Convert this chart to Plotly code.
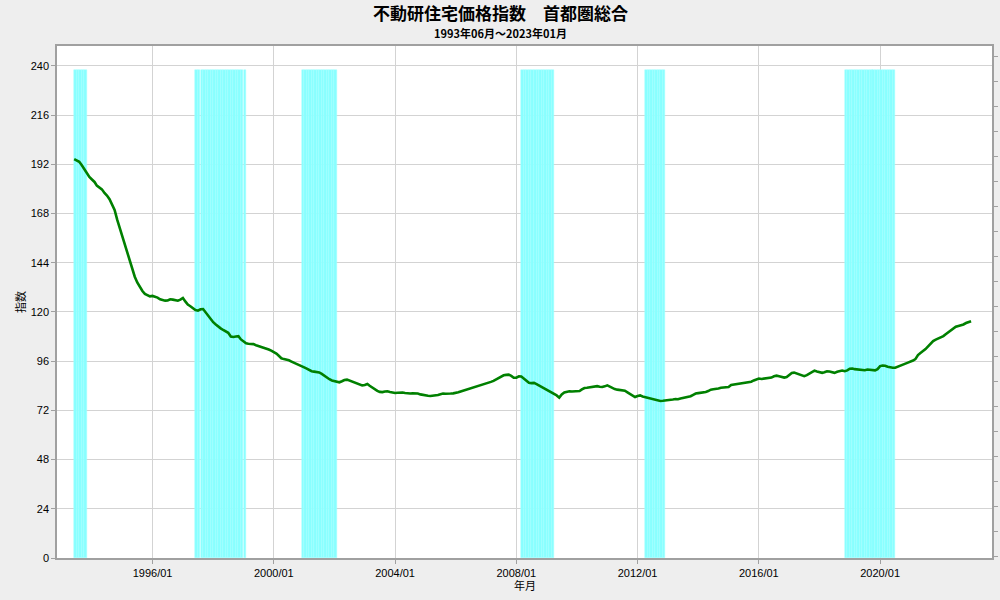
import pandas as pd
import plotly.graph_objects as go

START_MONTH = "1993-06-01"

# 不動研住宅価格指数 首都圏総合 (monthly, 1993/06 - 2023/01)
index_1993 = [194.5, 194.0, 193.2, 191.5, 189.6, 187.3, 185.8]
index_1994 = [184.6, 183.4, 181.6, 180.6, 179.8, 178.0, 176.8, 175.0, 172.5, 169.8, 165.0, 161.0]
index_1995 = [157.5, 153.4, 149.0, 144.8, 140.8, 137.2, 134.4, 132.0, 130.2, 128.8, 128.0, 127.6]
index_1996 = [127.8, 127.5, 127.0, 126.2, 125.8, 125.5, 125.6, 126.2, 126.0, 125.8, 125.5, 126.0]
index_1997 = [126.8, 125.0, 123.6, 122.8, 122.0, 120.9, 120.6, 121.3, 121.4, 119.8, 118.0, 116.2]
index_1998 = [115.0, 113.9, 112.8, 112.0, 111.2, 110.4, 109.8, 108.0, 107.8, 108.0, 108.2, 106.6]
index_1999 = [105.8, 104.7, 104.5, 104.5, 104.3, 103.8, 103.4, 103.2, 102.8, 102.3, 101.7, 101.1]
index_2000 = [100.5, 99.7, 98.6, 97.4, 97.0, 96.8, 96.4, 95.8, 95.3, 94.7, 94.2, 93.6]
index_2001 = [93.0, 92.4, 91.8, 91.1, 90.9, 90.7, 90.5, 89.8, 88.9, 87.9, 87.2, 86.6]
index_2002 = [86.3, 85.9, 85.7, 86.2, 86.8, 87.0, 86.5, 86.0, 85.5, 85.0, 84.5, 84.2]
index_2003 = [84.4, 84.9, 84.0, 83.0, 82.2, 81.5, 81.0, 80.9, 81.2, 81.3, 81.0, 80.7]
index_2004 = [80.5, 80.6, 80.8, 80.7, 80.5, 80.3, 80.2, 80.3, 80.4, 80.2, 79.8, 79.5]
index_2005 = [79.2, 79.1, 79.0, 79.1, 79.2, 79.5, 79.9, 80.2, 80.1, 80.0, 80.2, 80.3]
index_2006 = [80.4, 80.8, 81.2, 81.6, 81.8, 82.1, 82.5, 82.9, 83.3, 83.7, 84.1, 84.4]
index_2007 = [84.9, 85.4, 85.9, 86.4, 87.0, 87.7, 88.4, 89.1, 89.3, 89.4, 88.8, 87.9]
index_2008 = [87.9, 88.6, 88.5, 87.6, 86.4, 85.5, 85.3, 85.4, 84.8, 84.1, 83.4, 82.7]
index_2009 = [81.9, 81.1, 80.6, 80.1, 79.3, 78.2, 79.8, 80.7, 81.0, 81.3, 81.2, 81.3]
index_2010 = [81.2, 81.4, 82.2, 82.9, 83.0, 83.2, 83.4, 83.6, 83.8, 83.5, 83.4, 83.7]
index_2011 = [84.2, 83.6, 82.9, 82.4, 82.1, 82.0, 81.9, 81.6, 80.8, 80.0, 79.0, 78.5]
index_2012 = [79.0, 79.3, 78.8, 78.5, 78.2, 77.8, 77.4, 77.0, 76.7, 76.6, 76.7, 76.8]
index_2013 = [76.8, 77.1, 77.3, 77.5, 77.4, 77.8, 78.1, 78.2, 78.5, 78.9, 79.6, 80.2]
index_2014 = [80.4, 80.5, 80.6, 81.0, 81.4, 82.1, 82.3, 82.4, 82.7, 83.0, 83.2, 83.3]
index_2015 = [83.4, 84.4, 84.6, 84.7, 84.9, 85.0, 85.2, 85.5, 85.8, 86.0, 86.6, 87.2]
index_2016 = [87.5, 87.3, 87.4, 87.5, 87.8, 88.0, 88.6, 88.9, 88.6, 88.2, 88.0, 88.3]
index_2017 = [89.2, 90.2, 90.4, 89.9, 89.4, 89.0, 88.7, 89.2, 90.0, 91.0, 91.4, 91.0]
index_2018 = [90.6, 90.3, 90.6, 91.1, 91.0, 90.5, 90.3, 90.8, 91.3, 91.4, 91.1, 91.5]
index_2019 = [92.3, 92.4, 92.1, 91.9, 91.7, 91.5, 91.6, 91.9, 91.8, 91.5, 91.5, 92.1]
index_2020 = [93.6, 93.9, 93.8, 93.3, 93.0, 92.8, 92.8, 93.4, 93.9, 94.3, 94.8, 95.3]
index_2021 = [95.7, 96.3, 97.0, 99.0, 100.0, 100.9, 101.9, 103.2, 104.6, 105.8, 106.5, 107.0]
index_2022 = [107.6, 108.2, 109.1, 110.0, 110.9, 111.6, 112.8, 113.2, 113.4, 113.9, 114.6, 115.0]
index_2023 = [115.5]

# 景気後退期 (shaded months: first month, last month)
recession_periods = [
    ("1993-06-01", "1993-10-01"),
    ("1997-06-01", "1999-01-01"),
    ("2000-12-01", "2002-01-01"),
    ("2008-03-01", "2009-03-01"),
    ("2012-04-01", "2012-11-01"),
    ("2018-11-01", "2020-06-01"),
]
BAND_HEIGHT = 238

y_ticks = [0, 24, 48, 72, 96, 120, 144, 168, 192, 216, 240]

TITLE = "不動研住宅価格指数　首都圏総合"
SUBTITLE = "1993年06月～2023年01月"
X_TITLE = "年月"
Y_TITLE = "指数"

values = (index_1993 + index_1994 + index_1995 + index_1996 + index_1997 + index_1998
          + index_1999 + index_2000 + index_2001 + index_2002 + index_2003 + index_2004
          + index_2005 + index_2006 + index_2007 + index_2008 + index_2009 + index_2010
          + index_2011 + index_2012 + index_2013 + index_2014 + index_2015 + index_2016
          + index_2017 + index_2018 + index_2019 + index_2020 + index_2021 + index_2022
          + index_2023)
dates = pd.date_range(START_MONTH, periods=len(values), freq="MS")

band_months = []
for s, e in recession_periods:
    band_months += list(pd.date_range(s, e, freq="MS"))

MONTH_MS = 30.44 * 24 * 3600 * 1000

fig = go.Figure()
fig.add_trace(go.Bar(
    x=band_months, y=[BAND_HEIGHT] * len(band_months),
    width=[MONTH_MS] * len(band_months), offset=0,
    marker=dict(color="#88ffff", line=dict(color="#a4ffff", width=0.5)),
    showlegend=False, hoverinfo="skip",
))
fig.add_trace(go.Scatter(
    x=dates, y=values, mode="lines",
    line=dict(color="#008000", width=2.6),
    showlegend=False,
))
# invisible trace to anchor the right-hand axis
fig.add_trace(go.Scatter(x=[dates[0]], y=[0], yaxis="y2", mode="markers",
                         marker=dict(opacity=0), showlegend=False, hoverinfo="skip"))

tick_font = dict(family="Liberation Sans, Arial, sans-serif", size=11, color="#000000")
cjk = "Noto Sans CJK JP, sans-serif"

fig.update_layout(
    width=1000, height=600,
    paper_bgcolor="#eeeeee", plot_bgcolor="#ffffff",
    margin=dict(l=57, r=8, t=46, b=42, autoexpand=False),
    bargap=0,
    xaxis=dict(
        type="date", automargin=False,
        range=["1992-11-06", "2023-09-10"],
        tick0="1996-01-01", dtick="M48", tickformat="%Y/%m",
        showgrid=True, gridcolor="#d3d3d3", gridwidth=1,
        showline=True, linecolor="#a0a0a0", linewidth=1.5, mirror=True,
        ticks="outside", ticklen=4, tickcolor="#a0a0a0",
        tickfont=tick_font, zeroline=False,
    ),
    yaxis=dict(
        automargin=False,
        range=[0, 249.7],
        tickvals=y_ticks,
        showgrid=True, gridcolor="#d3d3d3", gridwidth=1,
        showline=True, linecolor="#a0a0a0", linewidth=1.5,
        ticks="outside", ticklen=4, tickcolor="#a0a0a0",
        tickfont=tick_font, zeroline=False,
    ),
    yaxis2=dict(
        overlaying="y", side="right", anchor="x", automargin=False,
        range=[-2, 510], tick0=0, dtick=25,
        showgrid=False, zeroline=False,
        showline=True, linecolor="#a0a0a0", linewidth=1.5,
        ticks="outside", ticklen=4, tickcolor="#a0a0a0",
        showticklabels=False,
    ),
    annotations=[
        dict(text="<b>" + TITLE + "</b>", xref="paper", yref="paper", x=0.474, y=1.0645,
             xanchor="center", yanchor="middle", showarrow=False,
             font=dict(family=cjk, size=17, color="#000000")),
        dict(text="<b>" + SUBTITLE + "</b>", xref="paper", yref="paper", x=0.474, y=1.0254,
             xanchor="center", yanchor="middle", showarrow=False,
             font=dict(family=cjk, size=11, color="#000000")),
        dict(text=X_TITLE, xref="paper", yref="paper", x=0.5, y=-0.0527,
             xanchor="center", yanchor="middle", showarrow=False,
             font=dict(family=cjk, size=11, color="#000000")),
        dict(text=Y_TITLE, xref="paper", yref="paper", x=-0.0396, y=0.5,
             xanchor="center", yanchor="middle", showarrow=False, textangle=-90,
             font=dict(family=cjk, size=11, color="#000000")),
    ],
)

fig.write_html(
    "out.html",
    config={"displayModeBar": False},
    post_script="document.body.style.margin='0px';document.body.style.background='#eeeeee';",
)
